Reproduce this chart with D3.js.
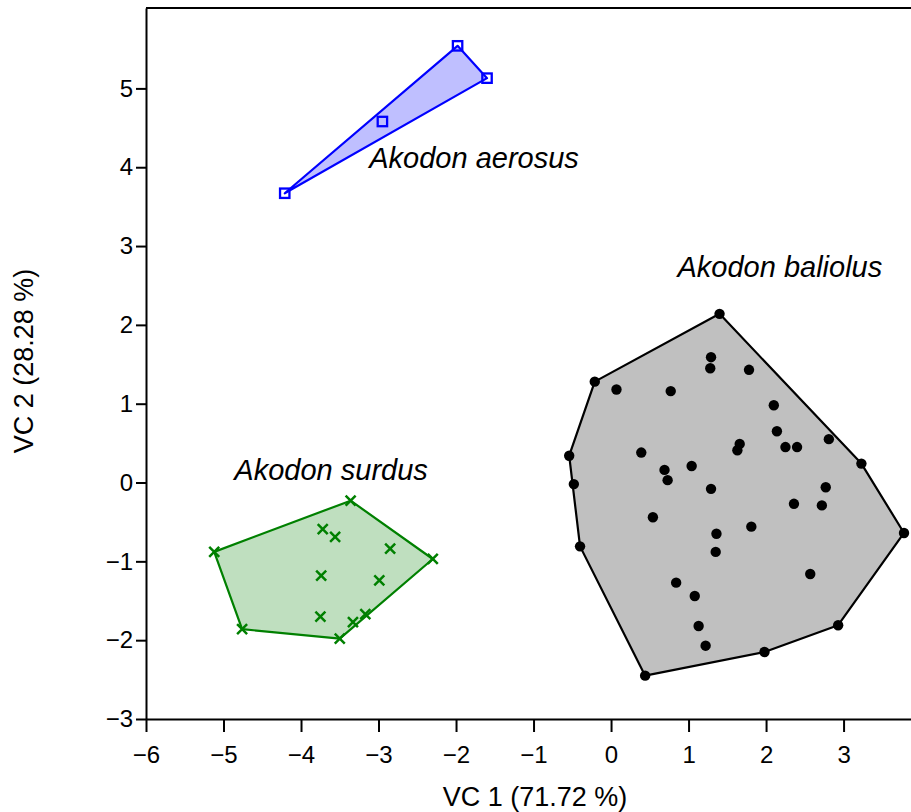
<html>
<head>
<meta charset="utf-8">
<script src="https://d3js.org/d3.v7.min.js"></script>
<style>
  body { margin: 0; background: #fff; }
  text { font-family: "Liberation Sans", Arial, Helvetica, sans-serif; }
</style>
</head>
<body>
<svg id="chart"></svg>
<script>
// species groups
var species = ["Akodon aerosus", "Akodon baliolus", "Akodon surdus"];

var aerosusX = [-4.21, -2.95, -1.98, -1.60];
var aerosusY = [3.67, 4.58, 5.54, 5.13];

var baliolusX = [1.40, 1.29, 1.28, 1.78, -0.21, 0.07, 0.77, 2.10, 2.14, 1.66,
                 1.63, 2.25, 2.40, 2.81, 3.23, -0.54, -0.48, 0.39, 0.69, 0.73,
                 1.04, 1.29, 2.77, 2.36, 2.72, 0.54, 1.81, 1.36, 1.35, 3.78,
                 -0.40, 2.57, 0.84, 1.08, 1.13, 1.22, 2.93, 1.98, 0.44];
var baliolusY = [2.14, 1.59, 1.45, 1.43, 1.28, 1.18, 1.16, 0.98, 0.65, 0.49,
                 0.41, 0.45, 0.45, 0.55, 0.24, 0.34, -0.02, 0.38, 0.16, 0.03,
                 0.21, -0.08, -0.06, -0.27, -0.29, -0.44, -0.56, -0.65, -0.88, -0.64,
                 -0.81, -1.16, -1.27, -1.44, -1.82, -2.07, -1.81, -2.15, -2.45];

var surdusX = [-3.36, -5.12, -2.30, -4.76, -3.50, -3.72, -3.56, -2.85, -3.74, -2.99, -3.75, -3.17, -3.33];
var surdusY = [-0.23, -0.88, -0.97, -1.86, -1.98, -0.59, -0.69, -0.84, -1.18, -1.24, -1.70, -1.67, -1.77];

// label anchors (data units: left x, baseline y)
var labelX = [-3.12, 0.857, -4.86];
var labelY = [3.99, 2.61, 0.03];

var xTicks = [-6, -5, -4, -3, -2, -1, 0, 1, 2, 3];
var yTicks = [-3, -2, -1, 0, 1, 2, 3, 4, 5];
var xTitle = "VC 1 (71.72 %)";
var yTitle = "VC 2 (28.28 %)";

var W = 911, H = 812;
var mLeft = 146, mTop = 8, mRight = 911, mBottom = 719;

var x = d3.scaleLinear().domain([-6, 3.87]).range([mLeft, mRight]);
var y = d3.scaleLinear().domain([-3, 6.02]).range([mBottom, mTop]);

var svg = d3.select("#chart").attr("width", W).attr("height", H);

function pts(xs, ys) { return xs.map(function (v, i) { return [v, ys[i]]; }); }

var groups = [
  { name: species[0], data: pts(aerosusX, aerosusY), stroke: "#0000ff", fill: "rgba(0,0,255,0.25)", shape: "square" },
  { name: species[1], data: pts(baliolusX, baliolusY), stroke: "#000000", fill: "#c0c0c0", shape: "dot" },
  { name: species[2], data: pts(surdusX, surdusY), stroke: "#008000", fill: "rgba(0,128,0,0.25)", shape: "cross" }
];

// hulls
groups.forEach(function (g) {
  var hull = d3.polygonHull(g.data);
  svg.append("path")
    .attr("d", "M" + hull.map(function (p) { return x(p[0]) + "," + y(p[1]); }).join("L") + "Z")
    .attr("fill", g.fill)
    .attr("stroke", g.stroke)
    .attr("stroke-width", 2.2)
    .attr("stroke-linejoin", "round");
});

// markers
groups.forEach(function (g) {
  var sel = svg.append("g").selectAll("g").data(g.data).enter().append("g")
    .attr("transform", function (d) { return "translate(" + x(d[0]) + "," + y(d[1]) + ")"; });
  if (g.shape === "dot") {
    sel.append("circle").attr("r", 5.2).attr("fill", g.stroke);
  } else if (g.shape === "square") {
    sel.append("rect").attr("x", -4.7).attr("y", -4.7).attr("width", 9.4).attr("height", 9.4)
      .attr("fill", "none").attr("stroke", g.stroke).attr("stroke-width", 2.3);
  } else {
    sel.append("path").attr("d", "M-5,-5L5,5M-5,5L5,-5")
      .attr("stroke", g.stroke).attr("stroke-width", 2.5);
  }
});

// species labels
svg.append("g").selectAll("text").data(species).enter().append("text")
  .attr("x", function (d, i) { return x(labelX[i]); })
  .attr("y", function (d, i) { return y(labelY[i]); })
  .attr("font-size", 29)
  .attr("font-style", "italic")
  .attr("fill", "#000")
  .text(function (d) { return d; });

// frame top
svg.append("line").attr("x1", mLeft).attr("x2", mRight).attr("y1", mTop).attr("y2", mTop)
  .attr("stroke", "#000").attr("stroke-width", 2);

// axes
var xAxis = svg.append("g").attr("transform", "translate(0," + mBottom + ")")
  .call(d3.axisBottom(x).tickValues(xTicks).tickSize(13).tickSizeOuter(0).tickPadding(14));
var yAxis = svg.append("g").attr("transform", "translate(" + mLeft + ",0)")
  .call(d3.axisLeft(y).tickValues(yTicks).tickSize(10).tickSizeOuter(0).tickPadding(3));

[xAxis, yAxis].forEach(function (a) {
  a.select(".domain").attr("stroke-width", 2);
  a.selectAll(".tick line").attr("stroke-width", 2);
  a.selectAll(".tick text").attr("font-size", 24).attr("fill", "#000")
    .attr("font-family", "'Liberation Sans', Arial, sans-serif");
});

svg.append("text")
  .attr("x", 535).attr("y", 806)
  .attr("text-anchor", "middle")
  .attr("font-size", 27)
  .text(xTitle);

svg.append("text")
  .attr("transform", "translate(33,361) rotate(-90)")
  .attr("text-anchor", "middle")
  .attr("font-size", 27)
  .text(yTitle);
</script>
</body>
</html>
